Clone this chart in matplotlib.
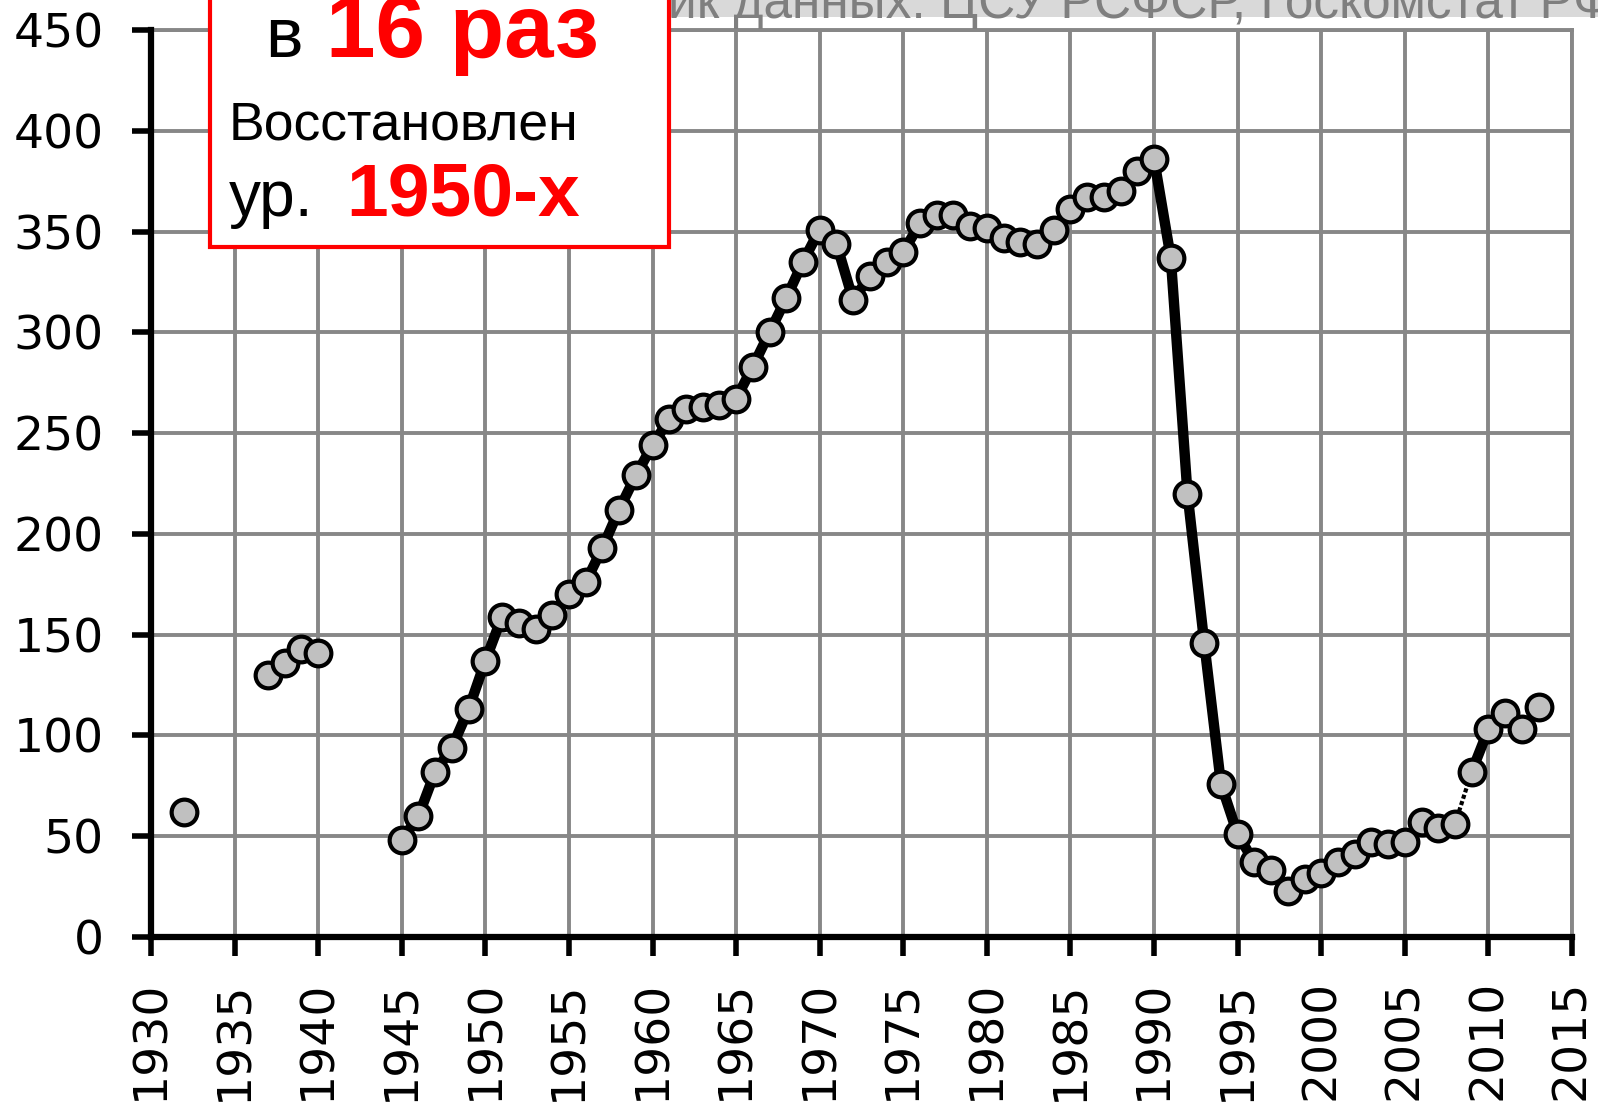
import numpy as np
import matplotlib.pyplot as plt
from matplotlib.patches import Rectangle

# data
years_prewar = [1932, 1937, 1938, 1939, 1940]
values_prewar = [62, 130, 136, 143, 141]

years_post = list(range(1945, 2014))
values_post = [48, 60, 82, 94, 113, 137, 159, 156, 153, 160,
               170, 176, 193, 212, 229, 244, 257, 262, 263, 264,
               267, 283, 300, 317, 335, 351, 344, 316, 328, 335,
               340, 354, 358, 358, 353, 352, 347, 345, 344, 351,
               361, 367, 367, 370, 380, 386, 337, 220, 146, 76,
               51, 37, 33, 23, 29, 32, 37, 41, 47, 46,
               47, 57, 54, 56, 82, 103, 111, 103, 114]

x_ticks = list(range(1930, 2016, 5))
y_ticks = list(range(0, 451, 50))

source_text = "Источник данных: ЦСУ РСФСР, Госкомстат РФ"

W, H = 1598, 1105
fig = plt.figure(figsize=(W / 100, H / 100), dpi=100)
ax = fig.add_axes([151 / W, 1 - 937 / H, (1572 - 151) / W, (937 - 30) / H])

grid_col = '#878787'
ax.set_xlim(1930, 2015)
ax.set_ylim(0, 450)
ax.set_xticks(x_ticks)
ax.set_yticks(y_ticks)
ax.grid(True, color=grid_col, lw=2.8)
ax.set_axisbelow(True)

for s in ['top', 'right']:
    ax.spines[s].set_color(grid_col)
    ax.spines[s].set_linewidth(2.8)
for s in ['left', 'bottom']:
    ax.spines[s].set_color('black')
    ax.spines[s].set_linewidth(4.5)
    ax.spines[s].set_zorder(4)

ax.tick_params(axis='both', length=14, width=4, color='black',
               labelsize=34, direction='out')
ax.tick_params(axis='x', pad=17, labelrotation=90)
ax.tick_params(axis='y', pad=20)
for lab in ax.get_xticklabels():
    lab.set_va('top')

yp = np.array(years_post)
vp = np.array(values_post)
lk = dict(color='black', lw=7.5, solid_capstyle='round', zorder=3)
m1 = yp <= 2008
ax.plot(yp[m1], vp[m1], **lk)
m2 = (yp >= 2008) & (yp <= 2009)
ax.plot(yp[m2], vp[m2], color='black', lw=3, ls=(0, (1, 0.6)), zorder=3)
m3 = (yp >= 2009) & (yp <= 2010)
ax.plot(yp[m3], vp[m3], **lk)

mk = dict(ls='none', marker='o', ms=18.5, mfc='#c0c0c0', mec='black',
          mew=3, zorder=5, clip_on=False)
ax.plot(years_prewar, values_prewar, **mk)
ax.plot(years_post, values_post, **mk)

# header source line (partly hidden behind the red box)
fig.patches.append(Rectangle((0.3, 1 - 17 / H), 0.8, 17 / H, transform=fig.transFigure,
                             facecolor='#d9d9d9', edgecolor='none', zorder=1))
fig.text(500 / W, 1 - 18 / H, source_text, fontsize=37, color='#7f7f7f',
         family='Liberation Sans', va='baseline', ha='left', zorder=2)

# red annotation box
fig.patches.append(Rectangle((210 / W, 1 - 247 / H), (669 - 210) / W, 260 / H,
                             transform=fig.transFigure, facecolor='white',
                             edgecolor='#ff0000', lw=3, zorder=5, clip_on=False))
tk = dict(family='Liberation Sans', va='baseline', ha='left', zorder=6)
fig.text(265 / W, 1 - 57 / H, "в", fontsize=51, color='black', **tk)
fig.text(326 / W, 1 - 57 / H, "16 раз", fontsize=64, color='#ff0000',
         fontweight='bold', **tk)
fig.text(229 / W, 1 - 139 / H, "Восстановлен", fontsize=38.5, color='black', **tk)
fig.text(229 / W, 1 - 216 / H, "ур.", fontsize=46, color='black', **tk)
fig.text(346 / W, 1 - 216 / H, "1950-х", fontsize=54, color='#ff0000',
         fontweight='bold', **tk)

fig.savefig('out.png', dpi=100, facecolor='white')
